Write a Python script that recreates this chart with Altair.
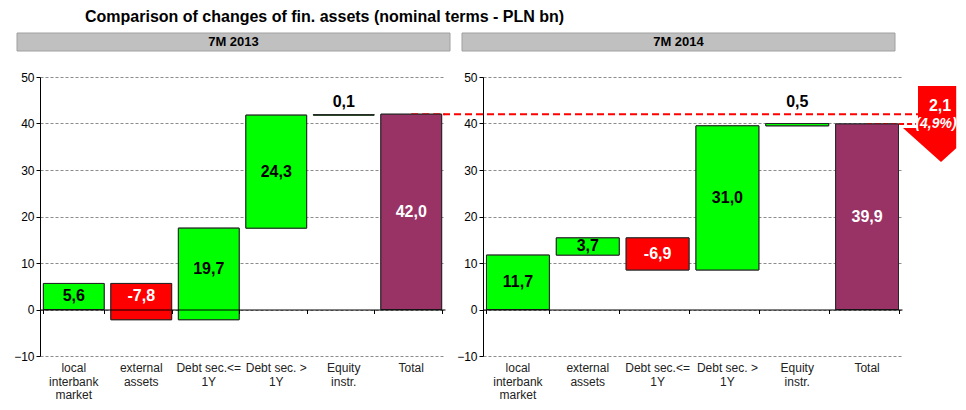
import altair as alt
import pandas as pd

title_text = "Comparison of changes of fin. assets (nominal terms - PLN bn)"
categories = ["local\ninterbank\nmarket", "external\nassets", "Debt sec.<=\n1Y",
              "Debt sec. >\n1Y", "Equity\ninstr.", "Total"]
panel_names = ["7M 2013", "7M 2014"]
values_2013 = [5.6, -7.8, 19.7, 24.3, 0.1, 42.0]
values_2014 = [11.7, 3.7, -6.9, 31.0, 0.5, 39.9]
y_ticks = [-10, 0, 10, 20, 30, 40, 50]
change_text = ["2,1"]
change_pct_text = ["(4,9%)"]

H = 279
SMALL_LABEL_LEVEL = 44.7


def fmt(v):
    return f"{v:.1f}".replace(".", ",")


def waterfall(values):
    rows = []
    run = 0.0
    for cat, v in zip(categories, values):
        if cat == "Total":
            s, e, kind = 0.0, v, "total"
        else:
            s, e = run, run + v
            run = e
            kind = "pos" if v >= 0 else "neg"
        lo = max(min(s, e), 0.0)
        hi = max(s, e)
        ly = SMALL_LABEL_LEVEL if abs(v) < 1 else (lo + hi) / 2
        rows.append(dict(cat=cat, start=s, end=e, kind=kind, label=fmt(v),
                         label_y=ly,
                         tcolor="#ffffff" if kind in ("neg", "total") else "#000000"))
    return pd.DataFrame(rows)


def panel(values, name, W, hx0, hx1, left=True, prev_total=None):
    df = waterfall(values)
    total = values[-1]
    ysc = alt.Scale(domain=[-10, 50], nice=False, zero=False)
    xsc = alt.Scale(domain=categories, paddingInner=0.1, paddingOuter=0.05)
    xax = alt.Axis(title=None, labels=False, orient="bottom", offset=-H / 6,
                   domainColor="black", domainWidth=1, tickColor="black",
                   tickSize=4, tickBand="extent", grid=False, zindex=1)
    yax = alt.Axis(title=None, values=y_ticks, grid=True, gridColor="#8c8c8c",
                   gridDash=[3, 2], domainColor="black", tickColor="black",
                   tickSize=4, labelFontSize=12, labelColor="#000000",
                   labelPadding=2, zindex=0)

    def X(field="cat:N"):
        return alt.X(field, scale=xsc, axis=xax, sort=categories)

    def Y(field):
        return alt.Y(field, scale=ysc, axis=yax)

    bar_color = alt.Color("kind:N", scale=alt.Scale(domain=["pos", "neg", "total"],
                                                    range=["#00ff00", "#ff0000", "#993366"]),
                          legend=None)
    base = alt.Chart(df)
    layers = []

    hdr = alt.Chart(pd.DataFrame({"name": [name]}))
    layers.append(hdr.mark_rect(fill="#c0c0c0", stroke="#a0a0a0", strokeWidth=1).encode(
        x=alt.value(hx0), x2=alt.value(hx1), y=alt.value(-44), y2=alt.value(-26)))
    layers.append(hdr.mark_text(fontSize=13, fontWeight="bold", color="#000000",
                                baseline="middle").encode(
        x=alt.value((hx0 + hx1) / 2), y=alt.value(-35), text="name:N"))
    if left:
        layers.append(alt.Chart(pd.DataFrame({"t": [title_text]})).mark_text(
            fontSize=16, fontWeight="bold", align="left", color="#000000",
            baseline="alphabetic").encode(
            x=alt.value(45), y=alt.value(-55), text="t:N"))

    layers.append(base.mark_bar(stroke="#262626", strokeWidth=1).encode(
        x=X(), y=Y("start:Q"), y2="end:Q", color=bar_color))

    ref_left = pd.DataFrame({"cat": ["Total"], "v": [total]})
    if left:
        layers.append(alt.Chart(ref_left).mark_rule(
            color="#ff0000", strokeWidth=2, strokeDash=[7, 4]).encode(
            x=X(), x2=alt.value(W), y=Y("v:Q")))
    else:
        layers.append(alt.Chart(pd.DataFrame({"v": [prev_total]})).mark_rule(
            color="#ff0000", strokeWidth=2, strokeDash=[7, 4]).encode(
            x=alt.value(-40), x2=alt.value(W + 18), y=Y("v:Q")))
        layers.append(alt.Chart(ref_left).mark_rule(
            color="#ff0000", strokeWidth=2, strokeDash=[5, 3]).encode(
            x=X(), x2=alt.value(W + 18), y=Y("v:Q")))

    # bars again, on top of the reference lines
    layers.append(base.mark_bar(stroke="#262626", strokeWidth=1).encode(
        x=X(), y=Y("start:Q"), y2="end:Q", color=bar_color))
    layers.append(base.mark_text(fontSize=16, fontWeight="bold", baseline="middle").encode(
        x=X(),
        y=Y("label_y:Q"),
        text="label:N",
        color=alt.Color("tcolor:N", scale=None)))
    layers.append(base.mark_text(fontSize=12, baseline="top", lineBreak="\n",
                                 lineHeight=13.5, color="#222222", dy=7).encode(
        x=X(),
        y=alt.YDatum(-10, scale=ysc, axis=yax),
        text="cat:N"))

    if not left:
        arrow_path = ("M -0.605 -1 L 0.4 -1 L 0.4 0.642 L 0 1 "
                      "L -1 0.105 L -0.605 0.105 Z")
        adf = pd.DataFrame({"v": [total], "change": change_text, "pct": change_pct_text})
        ach = alt.Chart(adf)
        layers.append(ach.mark_point(shape=arrow_path, size=5776, filled=True,
                                     fill="#ff0000", strokeWidth=0, opacity=1).encode(
            x=alt.value(W + 39), y=Y("v:Q")))
        layers.append(ach.mark_text(fontSize=16, fontWeight="bold", color="#ffffff",
                                    baseline="middle", dy=-18).encode(
            x=alt.value(W + 38), y=Y("v:Q"), text="change:N"))
        layers.append(ach.mark_text(fontSize=14, fontWeight="bold", fontStyle="italic",
                                    color="#ffffff", baseline="middle", dy=0).encode(
            x=alt.value(W + 34), y=Y("v:Q"), text="pct:N"))

    return alt.layer(*layers).properties(width=W, height=H)


left_chart = panel(values_2013, panel_names[0], 405, -23, 410, left=True)
right_chart = panel(values_2014, panel_names[1], 419, -21, 412, left=False,
                    prev_total=values_2013[-1])

chart = alt.hconcat(left_chart, right_chart, spacing=38, bounds="flush").properties(
    padding={"left": 5, "top": 0, "right": 0, "bottom": 0}
).configure(font="Liberation Sans").configure_view(stroke="transparent")

chart.save("out.html", embed_options={"renderer": "svg", "actions": False})
